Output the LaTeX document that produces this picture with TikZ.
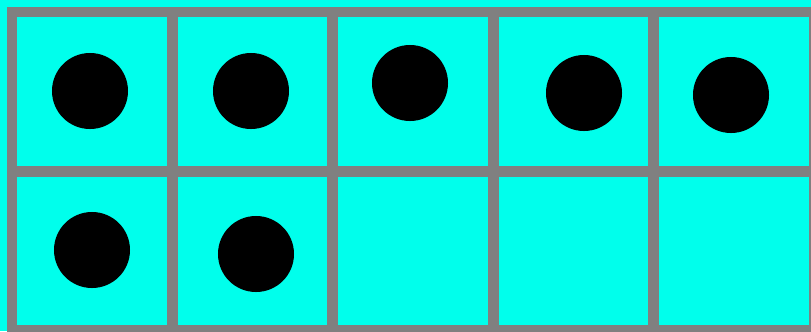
\documentclass[tikz,border=0pt]{standalone}
\usepackage{xcolor}
\definecolor{framebg}{RGB}{0,255,236}
\definecolor{gridline}{RGB}{128,128,128}

\begin{document}
\begin{tikzpicture}[x=0.025cm, y=-0.025cm,
    cell/.style={draw=gridline, line width=0.27cm, minimum width=4.01cm,
                 minimum height=3.98cm, inner sep=0pt},
    counter/.style={circle, fill=black, minimum size=1.9cm, inner sep=0pt}
]
    \useasboundingbox[fill=framebg] (0,0) rectangle (811,331);
    \clip (0,0) rectangle (811,331);

    % Ten frame
    \foreach \col in {1,...,5}
      \foreach \row in {1,2}
        \node[cell] (c\row\col) at ({12+160.4*(\col-0.5)}, {12+159.3*(\row-0.5)}) {};

    % Counters, top row
    \node[counter] (d1) at (90, 91)  {};
    \node[counter] (d2) at (251, 91) {};
    \node[counter] (d3) at (410, 83) {};
    \node[counter] (d4) at (584, 93) {};
    \node[counter] (d5) at (731, 95) {};

    % Counters, bottom row
    \node[counter] (d6) at (92, 250)  {};
    \node[counter] (d7) at (256, 254) {};
\end{tikzpicture}
\end{document}
